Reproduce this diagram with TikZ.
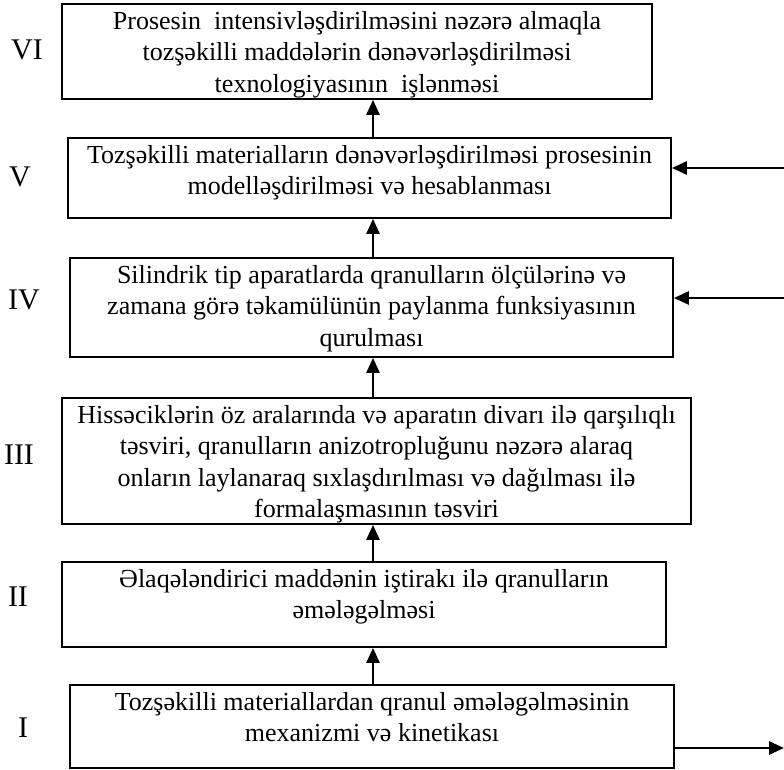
\documentclass[tikz,border=0pt]{standalone}
\usepackage{fontspec}
\setmainfont{Liberation Serif}
\usetikzlibrary{arrows.meta}

\begin{document}
\begin{tikzpicture}[x=1pt,y=-1pt,
    box/.style={draw,line width=1.8pt,inner sep=0pt},
    txt/.style={anchor=north,align=center,inner sep=8pt,font=\fontsize{26}{31.5}\selectfont},
    num/.style={inner sep=0pt,font=\fontsize{30}{32}\selectfont},
    arr/.style={line width=2.6pt,-{Triangle[length=15pt,width=13pt]}}]
    \useasboundingbox (0,0) rectangle (784,770);

    \node[box,minimum width=590pt,minimum height=95pt] (b6) at (357,51.5) {};
    \node[box,minimum width=603pt,minimum height=80pt] (b5) at (369.5,178) {};
    \node[box,minimum width=603pt,minimum height=99pt] (b4) at (371.5,307.5) {};
    \node[box,minimum width=629pt,minimum height=126pt] (b3) at (376.5,461) {};
    \node[box,minimum width=604pt,minimum height=85pt] (b2) at (364,604.5) {};
    \node[box,minimum width=604pt,minimum height=83pt] (b1) at (372,726.5) {};

    \node[txt] (t6) at (b6.north) {Prosesin\ \ intensivləşdirilməsini nəzərə almaqla\\tozşəkilli maddələrin dənəvərləşdirilməsi\\texnologiyasının\ \ işlənməsi};
    \node[txt] (t5) at (b5.north) {Tozşəkilli materialların dənəvərləşdirilməsi prosesinin\\modelləşdirilməsi və hesablanması};
    \node[txt] (t4) at (b4.north) {Silindrik tip aparatlarda qranulların ölçülərinə və\\zamana görə təkamülünün paylanma funksiyasının\\qurulması};
    \node[txt] (t3) at (b3.north) {Hissəciklərin öz aralarında və aparatın divarı ilə qarşılıqlı\\təsviri, qranulların anizotropluğunu nəzərə alaraq\\onların laylanaraq sıxlaşdırılması və dağılması ilə\\formalaşmasının təsviri};
    \node[txt] (t2) at (b2.north) {Əlaqələndirici maddənin iştirakı ilə qranulların\\əmələgəlməsi};
    \node[txt] (t1) at (b1.north) {Tozşəkilli materiallardan qranul əmələgəlməsinin\\mexanizmi və kinetikası};

    \node[num] (n6) at (27,50) {VI};
    \node[num] (n5) at (20,177) {V};
    \node[num] (n4) at (24,300) {IV};
    \node[num] (n3) at (19,455) {III};
    \node[num] (n2) at (18,597) {II};
    \node[num] (n1) at (23,728) {I};

    \coordinate (ax) at (373,0);
    \draw[arr] (b5.north -| ax) -- (b6.south -| ax);
    \draw[arr] (b4.north -| ax) -- (b5.south -| ax);
    \draw[arr] (b3.north -| ax) -- (b4.south -| ax);
    \draw[arr] (b2.north -| ax) -- (b3.south -| ax);
    \draw[arr] (b1.north -| ax) -- (b2.south -| ax);

    \coordinate (e5) at (784,168);
    \coordinate (e4) at (784,298);
    \coordinate (e1) at (784,748);
    \draw[arr] (e5) -- (e5 -| b5.east);
    \draw[arr] (e4) -- (e4 -| b4.east);
    \draw[arr] (e1 -| b1.east) -- (e1);
  \end{tikzpicture}
\end{document}
